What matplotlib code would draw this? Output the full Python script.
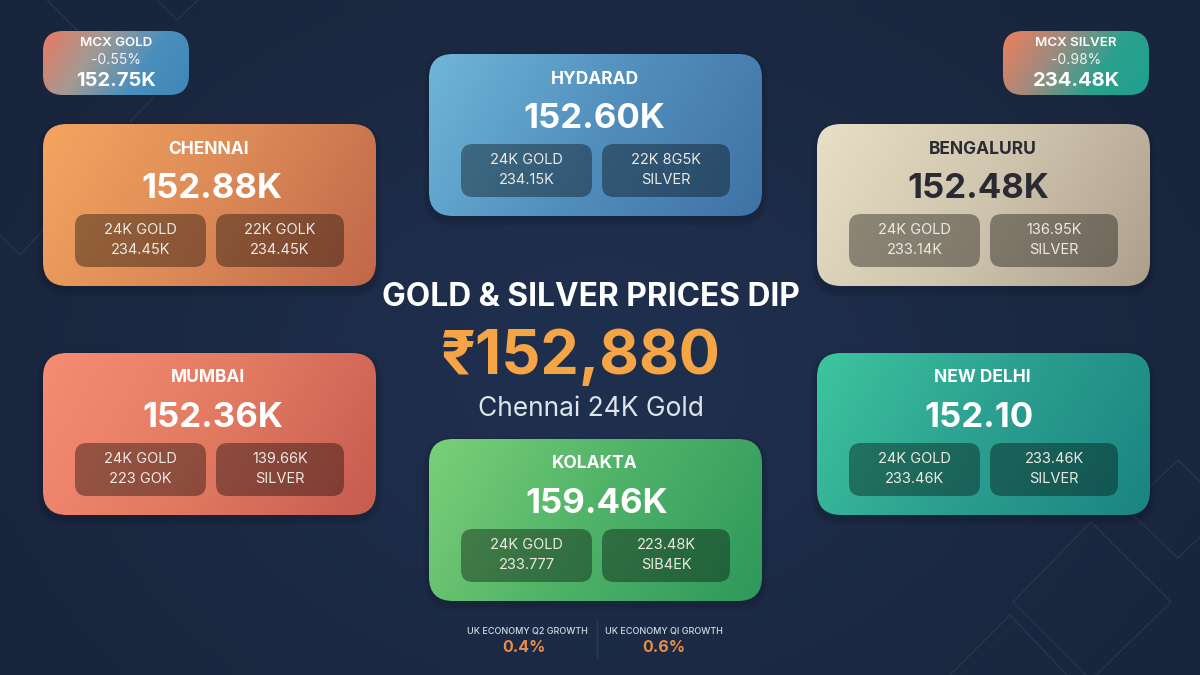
import numpy as np
import matplotlib
matplotlib.use("Agg")
import matplotlib.pyplot as plt
from matplotlib.colors import to_rgb
from matplotlib.patches import FancyBboxPatch

plt.rcParams["font.family"] = ["Inter", "DejaVu Sans"]

# card contents
cities = ["CHENNAI", "HYDARAD", "BENGALURU", "MUMBAI", "KOLAKTA", "NEW DELHI"]
city_prices = ["152.88K", "152.60K", "152.48K", "152.36K", "159.46K", "152.10"]
left_top = ["24K GOLD"] * 6
left_bottom = ["234.45K", "234.15K", "233.14K", "223 GOK", "233.777", "233.46K"]
right_top = ["22K GOLK", "22K 8G5K", "136.95K", "139.66K", "223.48K", "233.46K"]
right_bottom = ["234.45K", "SILVER", "SILVER", "SILVER", "SIB4EK", "SILVER"]

mcx_names = ["MCX GOLD", "MCX SILVER"]
mcx_changes = ["-0.55%", "-0.98%"]
mcx_prices = ["152.75K", "234.48K"]

headline = "GOLD & SILVER PRICES DIP"
main_price = "₹152,880"
main_label = "Chennai 24K Gold"

uk_labels = ["UK ECONOMY Q2 GROWTH", "UK ECONOMY QI GROWTH"]
uk_values = ["0.4%", "0.6%"]

# layout, in pixels of the 1200x675 picture
card_left = [43, 429, 817, 43, 429, 817]
card_top = [124, 54, 124, 353, 439, 353]
price_shift = [2, -1, -5, 3, 1, -5]
card_w, card_h = 333, 162
mcx_left = [43, 1003]
mcx_top = 31
mcx_w, mcx_h = 146, 64

card_colors = [
    ["#f4a560", "#dc8a57", "#c0674a"],
    ["#6fb6d8", "#528fbd", "#3f72a5"],
    ["#e8dfc6", "#cfc4ad", "#ad9f8d"],
    ["#f68c72", "#e27a62", "#c75b4f"],
    ["#7bd078", "#4fb268", "#2e985b"],
    ["#3dc59e", "#2c9f90", "#1a8481"],
]
mcx_colors = [
    ["#ea7a5f", "#a29a94", "#4a8fbd", "#3f87b8"],
    ["#f07f5a", "#a08a7e", "#2ba08e", "#1fa090"],
]

fig = plt.figure(figsize=(12, 6.75), dpi=100)
ax = fig.add_axes([0, 0, 1, 1])
ax.axis("off")


def gradient(x0, y0, w, h, colors, clip=None, zorder=2):
    u, v = np.meshgrid(np.linspace(0, 1, 120), np.linspace(0, 1, 60))
    t = u * 0.78 + v * 0.22
    stops = np.linspace(0, 1, len(colors))
    rgb = np.array([to_rgb(c) for c in colors])
    img = np.dstack([np.interp(t, stops, rgb[:, i]) for i in range(3)])
    im = ax.imshow(img, extent=(x0, x0 + w, y0 + h, y0), aspect="auto",
                   interpolation="bilinear", zorder=zorder)
    if clip is not None:
        im.set_clip_path(clip)


def rounded(x0, y0, w, h, r, **kw):
    p = FancyBboxPatch((x0 + r, y0 + r), w - 2 * r, h - 2 * r,
                       boxstyle=f"round,pad={r},rounding_size={r}", **kw)
    ax.add_patch(p)
    return p


def label(x, y, s, size, color="white", weight="normal"):
    ax.text(x, y, s, fontsize=size, color=color, fontweight=weight,
            ha="center", va="center", zorder=6)


# background
u, v = np.meshgrid(np.linspace(0, 1, 60), np.linspace(0, 1, 34))
glow = np.exp(-((u - 0.5) ** 2 / 0.16 + (v - 0.55) ** 2 / 0.3))
dark = np.array(to_rgb("#18243a"))
light = np.array(to_rgb("#1f2f4e"))
ax.imshow(dark + glow[..., None] * (light - dark), extent=(0, 1200, 675, 0),
          aspect="auto", interpolation="bilinear", zorder=0)

# faint diamonds behind the cards
diamonds = [
    ([47, 77], [0, 30]), ([157, 177, 198], [0, 20, 0]), ([153, 130], [98, 122]),
    ([0, 20, 43], [235, 255, 230]),
    ([1091, 1013, 1091, 1171, 1091], [680, 602, 522, 602, 680]),
    ([950, 1010, 1067], [675, 615, 675]),
    ([1135, 1178, 1200], [517, 558, 537]), ([1150, 1178, 1200], [487, 460, 482]),
]
for xs, ys in diamonds:
    ax.plot(xs, ys, color="#26354f", lw=1, zorder=1)

# city cards
for i, city in enumerate(cities):
    x, y = card_left[i], card_top[i]
    # soft shadow, a few stacked outlines
    for grow in [6, 4, 2]:
        rounded(x - grow, y - grow + 4, card_w + 2 * grow, card_h + 2 * grow, 24 + grow,
                fc="#0f1828", ec="none", alpha=0.1, zorder=1.5)
    patch = rounded(x, y, card_w, card_h, 24, fc="none", ec="none", zorder=2)
    gradient(x, y, card_w, card_h, card_colors[i], clip=patch)

    main_col = "#2a2a33" if city == "BENGALURU" else "white"
    cx = x + card_w / 2
    label(cx - 1, y + 25, city, 12.5, main_col, "bold")
    label(cx + price_shift[i], y + 65, city_prices[i], 25, main_col, "bold")

    for bx, bw, top, bottom in [(x + 32, 131, left_top[i], left_bottom[i]),
                                (x + 173, 128, right_top[i], right_bottom[i])]:
        rounded(bx, y + 90, bw, 53, 12, fc="black", ec="none", alpha=0.37, zorder=4)
        label(bx + bw / 2, y + 106, top, 10.5, "#ece9e2")
        label(bx + bw / 2, y + 126, bottom, 10.5, "#ece9e2")

# MCX chips
for i, name in enumerate(mcx_names):
    x = mcx_left[i]
    patch = rounded(x, mcx_top, mcx_w, mcx_h, 20, fc="none", ec="none", zorder=2)
    gradient(x, mcx_top, mcx_w, mcx_h, mcx_colors[i], clip=patch)
    cx = x + mcx_w / 2
    label(cx, 43, name, 9.6, "white", "semibold")
    label(cx, 60, mcx_changes[i], 10, "#f2f2f2")
    label(cx, 81, mcx_prices[i], 14.5, "white", "bold")

# centre headline
label(591, 297, headline, 22.8, "white", "bold")
label(581, 358, main_price, 44, "#f5a446", "bold")
label(591, 409, main_label, 19, "#dfe4ea")

# UK growth strip
label(527, 631, uk_labels[0], 6.5, "#d5dae2", "medium")
label(664, 631, uk_labels[1], 6.5, "#d5dae2", "medium")
label(524, 648, uk_values[0], 11.5, "#ea8d48", "bold")
label(664, 648, uk_values[1], 11.5, "#ea8d48", "bold")
ax.plot([597, 597], [620, 657], color="#2e3e58", lw=1, zorder=3)

ax.set_xlim(0, 1200)
ax.set_ylim(675, 0)
fig.savefig("out.png", dpi=100)
